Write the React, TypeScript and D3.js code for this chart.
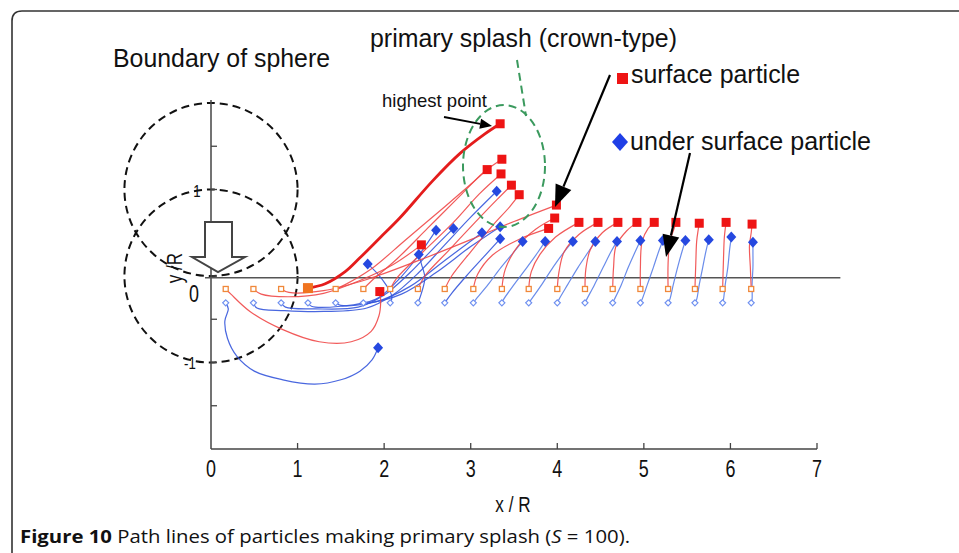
import * as d3 from "d3";

type Pt = [number, number];

// path lines of the surface particles (x/R, y/R); first point = start, last = end
const surfacePaths: Pt[][] = [
  [[0.17, -0.15], [0.23, -0.21], [0.45, -0.41], [0.83, -0.62], [1.25, -0.76], [1.62, -0.76], [1.85, -0.64], [1.94, -0.46], [1.96, -0.3], [1.95, -0.18]],
  [[0.49, -0.15], [0.58, -0.21], [0.9, -0.24], [1.3, -0.2], [1.7, -0.06], [2.1, 0.13], [2.43, 0.36]],
  [[0.81, -0.15], [0.9, -0.19], [1.3, -0.17], [1.8, -0.04], [2.4, 0.18], [3.0, 0.42], [3.5, 0.63], [3.99, 0.82]],
  [[1.12, -0.14], [1.32, -0.09], [1.55, 0.05], [1.72, 0.21], [1.95, 0.44], [2.18, 0.67], [2.56, 1.1], [2.88, 1.42], [3.16, 1.64], [3.34, 1.76]],
  [[1.44, -0.15], [1.55, -0.1], [1.85, 0.08], [2.25, 0.42], [2.7, 0.8], [3.0, 1.06], [3.19, 1.23]],
  [[1.76, -0.15], [1.85, -0.06], [2.15, 0.2], [2.5, 0.55], [2.85, 0.9], [3.15, 1.2], [3.36, 1.35]],
  [[2.07, -0.15], [2.15, -0.02], [2.45, 0.28], [2.8, 0.62], [3.1, 0.95], [3.35, 1.18]],
  [[2.39, -0.15], [2.47, 0.0], [2.75, 0.3], [3.05, 0.62], [3.3, 0.88], [3.47, 1.05]],
  [[2.7, -0.15], [2.78, 0.0], [3.0, 0.28], [3.25, 0.58], [3.45, 0.8], [3.56, 0.94]],
  [[3.03, -0.15], [3.08, 0.02], [3.25, 0.24], [3.55, 0.42], [3.9, 0.55]],
  [[3.36, -0.15], [3.4, 0.08], [3.55, 0.35], [3.75, 0.54], [3.97, 0.67]],
  [[3.67, -0.15], [3.7, 0.05], [3.8, 0.25], [3.98, 0.45], [4.25, 0.62]],
  [[4.0, -0.15], [4.02, 0.05], [4.08, 0.28], [4.25, 0.48], [4.47, 0.62]],
  [[4.32, -0.15], [4.33, 0.08], [4.38, 0.3], [4.52, 0.5], [4.7, 0.62]],
  [[4.64, -0.15], [4.65, 0.1], [4.68, 0.35], [4.8, 0.52], [4.92, 0.62]],
  [[4.96, -0.15], [4.96, 0.1], [4.98, 0.4], [5.05, 0.55], [5.12, 0.62]],
  [[5.28, -0.15], [5.28, 0.15], [5.3, 0.4], [5.35, 0.55], [5.37, 0.62]],
  [[5.59, -0.15], [5.6, 0.15], [5.61, 0.4], [5.63, 0.55], [5.64, 0.61]],
  [[5.91, -0.15], [5.92, 0.2], [5.93, 0.45], [5.95, 0.62]],
  [[6.24, -0.15], [6.23, 0.1], [6.22, 0.35], [6.24, 0.5], [6.25, 0.6]],
];

// path lines of the under surface particles
const underPaths: Pt[][] = [
  [[0.17, -0.31], [0.2, -0.38], [0.16, -0.52], [0.19, -0.72], [0.3, -0.93], [0.5, -1.1], [0.83, -1.2], [1.2, -1.25], [1.5, -1.2], [1.72, -1.1], [1.86, -0.97], [1.93, -0.83]],
  [[0.49, -0.31], [0.53, -0.37], [0.85, -0.4], [1.3, -0.41], [1.8, -0.37], [2.1, -0.22], [2.4, 0.04], [2.7, 0.36], [3.0, 0.68], [3.3, 0.98]],
  [[0.81, -0.31], [0.86, -0.36], [1.2, -0.38], [1.7, -0.36], [2.0, -0.22], [2.3, 0.04], [2.55, 0.3], [2.8, 0.55]],
  [[1.12, -0.31], [1.16, -0.35], [1.5, -0.35], [1.9, -0.27], [2.15, -0.06], [2.4, 0.24], [2.6, 0.53]],
  [[1.44, -0.31], [1.5, -0.34], [1.9, -0.3], [2.3, -0.12], [2.7, 0.18], [3.13, 0.5]],
  [[1.76, -0.31], [1.82, -0.31], [2.2, -0.21], [2.6, 0.04], [3.0, 0.34], [3.34, 0.57]],
  [[2.07, -0.31], [2.09, -0.24], [2.02, -0.1], [1.92, 0.03], [1.81, 0.14]],
  [[2.39, -0.31], [2.43, -0.2], [2.47, -0.02], [2.43, 0.14], [2.4, 0.25]],
  [[2.7, -0.31], [2.78, -0.2], [2.95, 0.0], [3.15, 0.22], [3.34, 0.43]],
  [[3.03, -0.31], [3.06, -0.27], [3.2, -0.1], [3.35, 0.1], [3.5, 0.28], [3.6, 0.4]],
  [[3.36, -0.31], [3.38, -0.27], [3.5, -0.1], [3.65, 0.1], [3.78, 0.28], [3.86, 0.4]],
  [[3.67, -0.31], [3.7, -0.27], [3.82, -0.1], [3.95, 0.1], [4.08, 0.28], [4.18, 0.4]],
  [[4.0, -0.31], [4.02, -0.27], [4.12, -0.1], [4.24, 0.1], [4.36, 0.28], [4.44, 0.4]],
  [[4.32, -0.31], [4.34, -0.27], [4.43, -0.1], [4.53, 0.1], [4.62, 0.28], [4.69, 0.4]],
  [[4.64, -0.31], [4.66, -0.27], [4.74, -0.1], [4.82, 0.1], [4.9, 0.28], [4.96, 0.41]],
  [[4.96, -0.31], [4.98, -0.27], [5.04, -0.1], [5.11, 0.1], [5.17, 0.28], [5.22, 0.41]],
  [[5.28, -0.31], [5.3, -0.27], [5.34, -0.1], [5.39, 0.1], [5.44, 0.28], [5.48, 0.41]],
  [[5.59, -0.31], [5.61, -0.27], [5.64, -0.1], [5.68, 0.1], [5.72, 0.3], [5.75, 0.42]],
  [[5.91, -0.31], [5.92, -0.27], [5.94, -0.1], [5.97, 0.1], [5.99, 0.3], [6.01, 0.45]],
  [[6.24, -0.31], [6.25, -0.27], [6.25, -0.1], [6.26, 0.1], [6.26, 0.28], [6.26, 0.39]],
];

const HIGHEST = 3; // index of the particle that reaches the highest point
const xTicks = [0, 1, 2, 3, 4, 5, 6, 7];
const yTicks = [1.5, 1, 0.5, 0, -0.5, -1, -1.5];
const sphereCenters = [1, 0]; // y/R of sphere centre, radius 1
const SURFACE = -0.02;

const W = 959;
const H = 553;
const FONT = "'Liberation Sans', Arial, sans-serif";

const x = d3.scaleLinear().domain([0, 7]).range([211, 817]);
const y = d3.scaleLinear().domain([-2, 2]).range([449, 103]);

const line = d3
  .line<Pt>()
  .x((d) => x(d[0]))
  .y((d) => y(d[1]))
  .curve(d3.curveCatmullRom.alpha(0.5));

const Arrow = ({ x1, y1, x2, y2, len, wid, sw }: any) => {
  const a = Math.atan2(y2 - y1, x2 - x1);
  const bx = x2 - len * Math.cos(a);
  const by = y2 - len * Math.sin(a);
  const px = (wid / 2) * Math.sin(a);
  const py = (wid / 2) * Math.cos(a);
  return (
    <g>
      <line x1={x1} y1={y1} x2={bx} y2={by} stroke="#000" strokeWidth={sw} />
      <polygon points={`${x2},${y2} ${bx + px},${by - py} ${bx - px},${by + py}`} fill="#000" />
    </g>
  );
};

// narrow label, like the condensed font of the original plot
const NLabel = ({ tx, ty, size, children, rotate = 0 }: any) => (
  <g transform={`translate(${tx},${ty}) rotate(${rotate}) scale(0.78,1)`}>
    <text textAnchor="middle" fontFamily={FONT} fontSize={size} fill="#111">
      {children}
    </text>
  </g>
);

const diamond = (cx: number, cy: number, rx: number, ry: number) =>
  `M${cx},${cy - ry}L${cx + rx},${cy}L${cx},${cy + ry}L${cx - rx},${cy}Z`;

export default function App() {
  const r = x(1) - x(0);
  return (
    <svg
      width={W}
      height={H}
      style={{ position: "absolute", left: 0, top: 0, background: "#fff" }}
    >
      {/* figure frame */}
      <path d="M12,600 L12,21 Q12,11 22,11 L980,11" fill="none" stroke="#333" strokeWidth={1.6} />

      {/* sphere boundaries */}
      {sphereCenters.map((c) => (
        <ellipse
          key={c}
          cx={x(0)}
          cy={y(c)}
          rx={r}
          ry={y(0) - y(1)}
          fill="none"
          stroke="#111"
          strokeWidth={2}
          strokeDasharray="8 5"
        />
      ))}

      {/* axes */}
      <line x1={x(0)} y1={y(-2)} x2={x(0)} y2={100} stroke="#444" strokeWidth={1.5} />
      <line x1={x(0)} y1={y(-2)} x2={x(7)} y2={y(-2)} stroke="#444" strokeWidth={1.5} />
      {xTicks.slice(1).map((t) => (
        <line key={t} x1={x(t)} x2={x(t)} y1={y(-2)} y2={y(-2) - 6} stroke="#444" strokeWidth={1.3} />
      ))}
      {yTicks.map((t) => (
        <line key={t} x1={x(0)} x2={x(0) + 6} y1={y(t)} y2={y(t)} stroke="#444" strokeWidth={1.3} />
      ))}
      {xTicks.map((t) => (
        <NLabel key={t} tx={x(t)} ty={477} size={23}>
          {t}
        </NLabel>
      ))}
      <NLabel tx={513} ty={512} size={22}>
        x / R
      </NLabel>
      <NLabel tx={197} ty={197} size={17}>
        1
      </NLabel>
      <NLabel tx={194} ty={302} size={23}>
        0
      </NLabel>
      <NLabel tx={190} ty={369} size={17}>
        -1
      </NLabel>
      <NLabel tx={182} ty={268} size={22} rotate={-90}>
        y /R
      </NLabel>

      {/* free surface */}
      <line x1={205} x2={x(7.27)} y1={y(SURFACE)} y2={y(SURFACE)} stroke="#555" strokeWidth={1.5} />

      {/* path lines */}
      {underPaths.map((p, i) => (
        <path
          key={"u" + i}
          d={line(p) || undefined}
          fill="none"
          stroke={i < 9 ? "#3556dc" : "#5a7fe8"}
          strokeWidth={1.2}
          strokeOpacity={0.9}
        />
      ))}
      {surfacePaths.map((p, i) => (
        <path
          key={"s" + i}
          d={line(p) || undefined}
          fill="none"
          stroke={i === HIGHEST ? "#e41c1c" : "#f04848"}
          strokeWidth={i === HIGHEST ? 2.8 : 1.2}
          strokeOpacity={i === HIGHEST ? 1 : 0.9}
        />
      ))}

      {/* start markers */}
      {underPaths.map((p, i) => (
        <path
          key={"us" + i}
          d={diamond(x(p[0][0]), y(p[0][1]), 3, 3)}
          fill="#fff"
          stroke="#6f90f0"
          strokeWidth={1.2}
        />
      ))}
      {surfacePaths.map((p, i) =>
        i === HIGHEST ? (
          <rect key={"ss" + i} x={x(p[0][0]) - 5} y={y(p[0][1]) - 5} width={10} height={10} fill="#f07420" />
        ) : (
          <rect
            key={"ss" + i}
            x={x(p[0][0]) - 2.5}
            y={y(p[0][1]) - 2.5}
            width={5}
            height={5}
            fill="#fff"
            stroke="#f0883a"
            strokeWidth={1.3}
          />
        )
      )}

      {/* end markers */}
      {underPaths.map((p, i) => {
        const e = p[p.length - 1];
        return <path key={"ue" + i} d={diamond(x(e[0]), y(e[1]), 5, 5.5)} fill="#2548e0" />;
      })}
      {surfacePaths.map((p, i) => {
        const e = p[p.length - 1];
        return <rect key={"se" + i} x={x(e[0]) - 4.5} y={y(e[1]) - 4.5} width={9} height={9} fill="#ee1414" />;
      })}

      {/* falling sphere arrow */}
      <polygon
        points="205,222 232,222 232,257 245,257 218,272 192,257 205,257"
        fill="#fff"
        stroke="#444"
        strokeWidth={2}
      />

      {/* crown region */}
      <ellipse cx={504} cy={166} rx={41} ry={61} fill="none" stroke="#3b9a5e" strokeWidth={2} strokeDasharray="8 5" />
      <line x1={517} y1={60} x2={526} y2={116} stroke="#3b9a5e" strokeWidth={2} strokeDasharray="8 5" />

      {/* annotations */}
      <text x={113} y={67} fontFamily={FONT} fontSize={25} fill="#111" textLength={217} lengthAdjust="spacingAndGlyphs">
        Boundary of sphere
      </text>
      <text x={370} y={47} fontFamily={FONT} fontSize={25} fill="#111" textLength={307} lengthAdjust="spacingAndGlyphs">
        primary splash (crown-type)
      </text>
      <text x={382} y={107} fontFamily={FONT} fontSize={19} fill="#111" textLength={105} lengthAdjust="spacingAndGlyphs">
        highest point
      </text>
      <rect x={617} y={73} width={11} height={11} fill="#ee1414" />
      <text x={631} y={83} fontFamily={FONT} fontSize={25} fill="#111" textLength={169} lengthAdjust="spacingAndGlyphs">
        surface particle
      </text>
      <path d={diamond(620, 142, 8, 9)} fill="#1f3fe6" />
      <text x={630} y={150} fontFamily={FONT} fontSize={25} fill="#111" textLength={241} lengthAdjust="spacingAndGlyphs">
        under surface particle
      </text>
      <Arrow x1={444} y1={117} x2={492} y2={126} len={12} wid={10} sw={1.8} />
      <Arrow x1={610} y1={75} x2={555} y2={207} len={22} wid={17} sw={2.2} />
      <Arrow x1={690} y1={153} x2={666} y2={257} len={22} wid={17} sw={2.2} />

      {/* caption */}
      <text
        x={20}
        y={543}
        fontFamily="'Open Sans', 'Noto Sans', sans-serif"
        fontSize={18}
        fill="#111"
        textLength={610}
        lengthAdjust="spacingAndGlyphs"
      >
        <tspan fontWeight="bold">Figure 10</tspan> Path lines of particles making primary splash (
        <tspan fontStyle="italic">S</tspan> = 100).
      </text>
    </svg>
  );
}
